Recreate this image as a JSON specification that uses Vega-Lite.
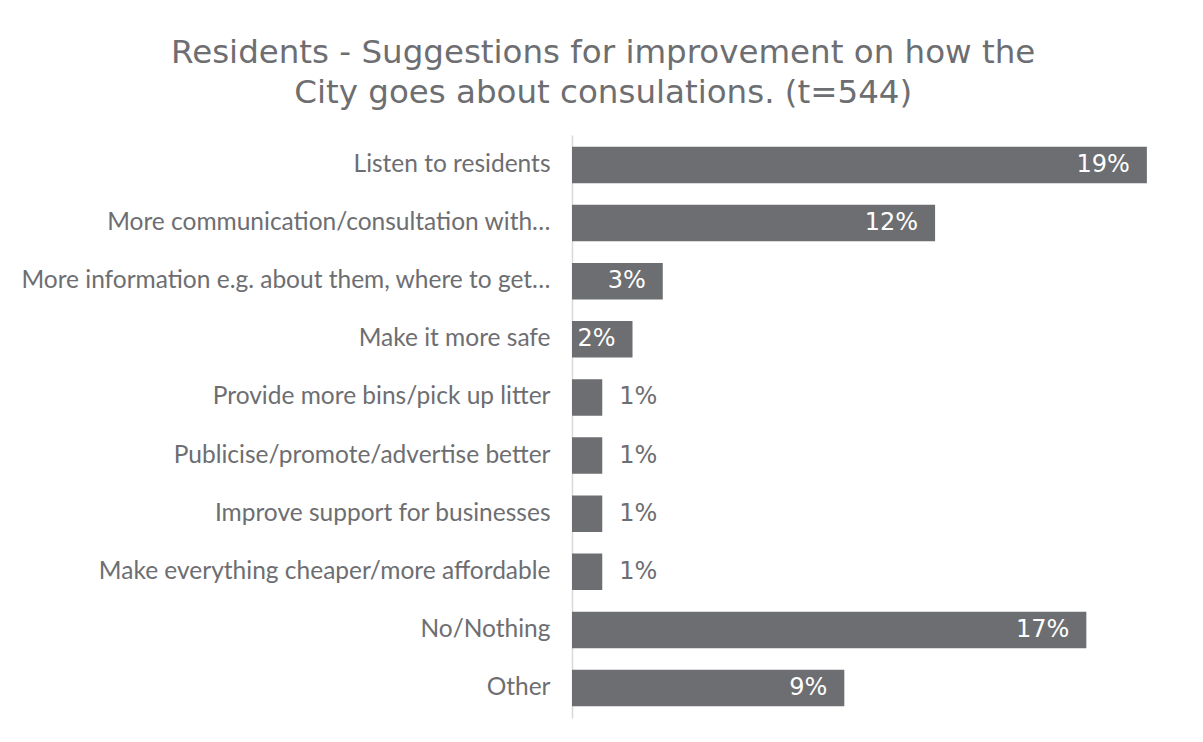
{
  "$schema": "https://vega.github.io/schema/vega-lite/v6.json",
  "width": 590,
  "height": 583,
  "autosize": {"type": "none"},
  "padding": {"left": 572, "top": 135, "right": 41, "bottom": 24},
  "background": "white",
  "config": {"view": {"stroke": null}},
  "title": {
    "text": ["Residents - Suggestions for improvement on how the", "City goes about consulations. (t=544)"],
    "font": "DejaVu Sans",
    "fontSize": 32.5,
    "fontWeight": "normal",
    "color": "#6d6e71",
    "anchor": "middle",
    "frame": "bounds",
    "lineHeight": 40,
    "offset": 26,
    "dx": 12
  },
  "data": {
    "values": [
      {"item": "Listen to residents", "pct": 0.19},
      {"item": "More communication/consultation with…", "pct": 0.12},
      {"item": "More information e.g. about them, where to get…", "pct": 0.03},
      {"item": "Make it more safe", "pct": 0.02},
      {"item": "Provide more bins/pick up litter", "pct": 0.01},
      {"item": "Publicise/promote/advertise better", "pct": 0.01},
      {"item": "Improve support for businesses", "pct": 0.01},
      {"item": "Make everything cheaper/more affordable", "pct": 0.01},
      {"item": "No/Nothing", "pct": 0.17},
      {"item": "Other", "pct": 0.09}
    ]
  },
  "encoding": {
    "y": {
      "field": "item",
      "type": "nominal",
      "sort": null,
      "scale": {"paddingInner": 0.37, "paddingOuter": 0.2},
      "axis": {
        "title": null,
        "ticks": false,
        "grid": false,
        "domainColor": "#d9d9d9",
        "domainWidth": 1.5,
        "labelFont": "Lato",
        "labelFontSize": 24.5,
        "labelColor": "#6d6e71",
        "labelPadding": 22,
        "labelLimit": 600
      }
    },
    "x": {
      "field": "pct",
      "type": "quantitative",
      "scale": {"domain": [0, 0.195]},
      "axis": null
    }
  },
  "layer": [
    {"mark": {"type": "bar", "color": "#6d6e71"}},
    {
      "transform": [{"filter": "datum.pct >= 0.02"}],
      "mark": {"type": "text", "align": "right", "dx": -17, "font": "DejaVu Sans", "fontSize": 24, "color": "white", "baseline": "middle"},
      "encoding": {"text": {"field": "pct", "type": "quantitative", "format": ".0%"}}
    },
    {
      "transform": [{"filter": "datum.pct < 0.02"}],
      "mark": {"type": "text", "align": "left", "dx": 17, "font": "DejaVu Sans", "fontSize": 24, "color": "#6d6e71", "baseline": "middle"},
      "encoding": {"text": {"field": "pct", "type": "quantitative", "format": ".0%"}}
    }
  ]
}
